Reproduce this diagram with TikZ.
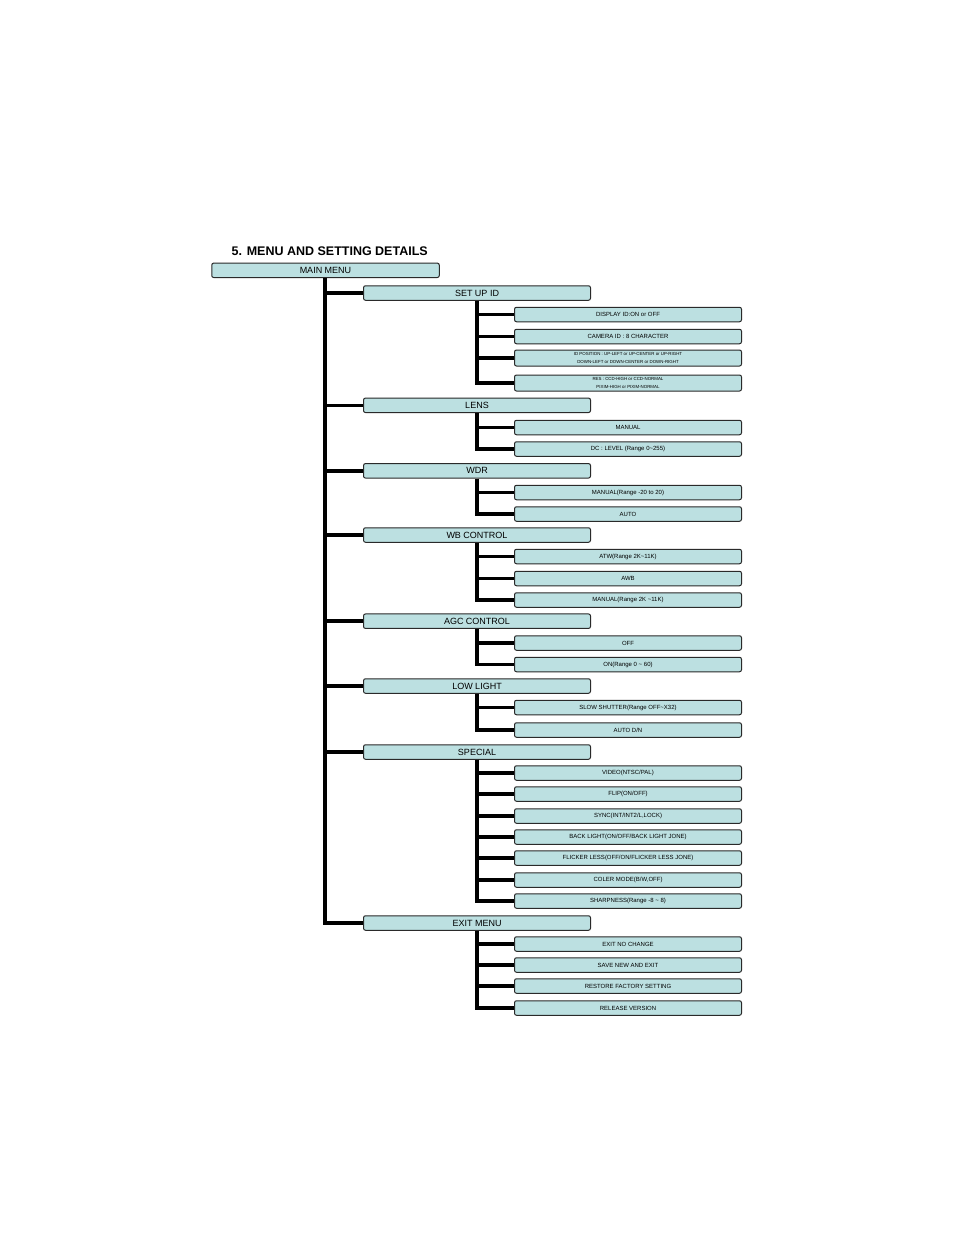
\documentclass[tikz,border=0pt]{standalone}
\usepackage{fontspec}
\setmainfont{Liberation Sans}
\definecolor{boxfill}{HTML}{BCE0E1}
\definecolor{boxline}{HTML}{2A2A2A}
\begin{document}
\begin{tikzpicture}[x=1pt,y=-1pt,
  box/.style={rectangle, rounded corners=2pt, fill=boxfill, draw=boxline, line width=1pt, inner sep=0pt, minimum width=227pt, align=center},
  topbox/.style={box, minimum height=14.5pt, font=\fontsize{9}{10}\selectfont},
  subbox/.style={box, minimum height=14.5pt, font=\fontsize{6}{7}\selectfont},
  twobox/.style={box, minimum height=16pt, font=\fontsize{4.4}{8.6}\selectfont},
  trunk/.style={line width=3.6pt, black}]
\useasboundingbox (0,0) rectangle (954,1235);
\fill[white] (0,0) rectangle (954,1235);

\node[anchor=base west, inner sep=0pt, font=\fontsize{12.5}{14}\selectfont\bfseries] (title) at (231.5,255) {5. MENU AND SETTING DETAILS};

\node[topbox, minimum width=227.5pt] (main) at (325.5,270.3) {MAIN MENU};

% level 1
\node[topbox] (s1) at (477,293) {SET UP ID};
\node[topbox] (s2) at (477,405.3) {LENS};
\node[topbox] (s3) at (477,470.8) {WDR};
\node[topbox] (s4) at (477,535) {WB CONTROL};
\node[topbox] (s5) at (477,621.2) {AGC CONTROL};
\node[topbox] (s6) at (477,686) {LOW LIGHT};
\node[topbox] (s7) at (477,752) {SPECIAL};
\node[topbox] (s8) at (477,923) {EXIT MENU};

% level 2
\node[subbox] (a1) at (628,314.5) {DISPLAY ID:ON or OFF};
\node[subbox] (a2) at (628,336.5) {CAMERA ID : 8 CHARACTER};
\node[twobox] (a3) at (628,358) {ID POSITION : UP-LEFT or UP-CENTER or UP-RIGHT\\DOWN-LEFT or DOWN-CENTER or DOWN-RIGHT};
\node[twobox] (a4) at (628,383) {RES : CCD-HIGH or CCD-NORMAL\\PIXIM-HIGH or PIXIM-NORMAL};

\node[subbox] (b1) at (628,427.5) {MANUAL};
\node[subbox] (b2) at (628,449) {DC : LEVEL (Range 0\char"007E 255)};

\node[subbox] (c1) at (628,492.5) {MANUAL(Range -20 to 20)};
\node[subbox] (c2) at (628,514) {AUTO};

\node[subbox] (d1) at (628,556.5) {ATW(Range 2K\char"007E 11K)};
\node[subbox] (d2) at (628,578.5) {AWB};
\node[subbox] (d3) at (628,600) {MANUAL(Range 2K \char"007E 11K)};

\node[subbox] (e1) at (628,643) {OFF};
\node[subbox] (e2) at (628,664.5) {ON(Range 0 \char"007E\ 60)};

\node[subbox] (f1) at (628,707.5) {SLOW SHUTTER(Range OFF\char"007E X32)};
\node[subbox] (f2) at (628,730) {AUTO D/N};

\node[subbox] (g1) at (628,773) {VIDEO(NTSC/PAL)};
\node[subbox] (g2) at (628,794) {FLIP(ON/OFF)};
\node[subbox] (g3) at (628,816) {SYNC(INT/INT2/L,LOCK)};
\node[subbox] (g4) at (628,837) {BACK LIGHT(ON/OFF/BACK LIGHT JONE)};
\node[subbox] (g5) at (628,858) {FLICKER LESS(OFF/ON/FLICKER LESS JONE)};
\node[subbox] (g6) at (628,880) {COLER MODE(B/W,OFF)};
\node[subbox] (g7) at (628,901) {SHARPNESS(Range -8 \char"007E\ 8)};

\node[subbox] (h1) at (628,944) {EXIT NO CHANGE};
\node[subbox] (h2) at (628,965) {SAVE NEW AND EXIT};
\node[subbox] (h3) at (628,986) {RESTORE FACTORY SETTING};
\node[subbox] (h4) at (628,1008) {RELEASE VERSION};

% connectors
\foreach \s in {s1,s2,s3,s4,s5,s6,s7,s8}
  \draw[trunk] ([xshift=-0.5pt]main.south) |- (\s.west);
\foreach \c in {a1,a2,a3,a4} \draw[trunk] (s1.south) |- (\c.west);
\foreach \c in {b1,b2} \draw[trunk] (s2.south) |- (\c.west);
\foreach \c in {c1,c2} \draw[trunk] (s3.south) |- (\c.west);
\foreach \c in {d1,d2,d3} \draw[trunk] (s4.south) |- (\c.west);
\foreach \c in {e1,e2} \draw[trunk] (s5.south) |- (\c.west);
\foreach \c in {f1,f2} \draw[trunk] (s6.south) |- (\c.west);
\foreach \c in {g1,g2,g3,g4,g5,g6,g7} \draw[trunk] (s7.south) |- (\c.west);
\foreach \c in {h1,h2,h3,h4} \draw[trunk] (s8.south) |- (\c.west);
\end{tikzpicture}
\end{document}
